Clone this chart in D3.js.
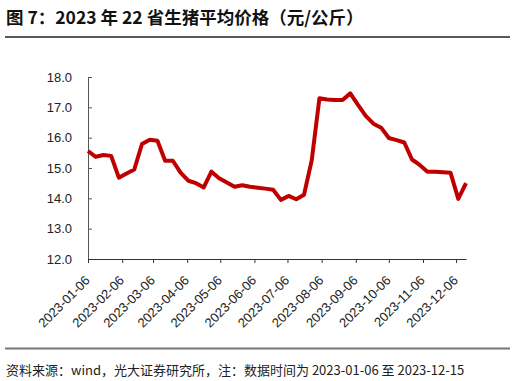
<!DOCTYPE html>
<html>
<head>
    <meta charset="utf-8">
    <script src="https://cdn.jsdelivr.net/npm/d3@7"></script>
    <style type="text/css">
        body { margin: 0; background: #fff; }
        .axis text { font-family: "Liberation Sans", Arial, sans-serif; font-size: 13px; fill: #222; }
        .cjk { font-family: "Noto Sans CJK SC", sans-serif; }
    </style>
</head>
<body>
<script type="text/javascript">
    // weekly dates and prices (yuan/kg)
    var dates = [
        "2023-01-06", "2023-01-13", "2023-01-20", "2023-01-27",
        "2023-02-03", "2023-02-10", "2023-02-17", "2023-02-24",
        "2023-03-03", "2023-03-10", "2023-03-17", "2023-03-24", "2023-03-31",
        "2023-04-07", "2023-04-14", "2023-04-21", "2023-04-28",
        "2023-05-05", "2023-05-12", "2023-05-19", "2023-05-26",
        "2023-06-02", "2023-06-09", "2023-06-16", "2023-06-23", "2023-06-30",
        "2023-07-07", "2023-07-14", "2023-07-21", "2023-07-28",
        "2023-08-04", "2023-08-11", "2023-08-18", "2023-08-25",
        "2023-09-01", "2023-09-08", "2023-09-15", "2023-09-22", "2023-09-29",
        "2023-10-06", "2023-10-13", "2023-10-20", "2023-10-27",
        "2023-11-03", "2023-11-10", "2023-11-17", "2023-11-24",
        "2023-12-01", "2023-12-08", "2023-12-15"
    ];
    var prices = [
        15.56, 15.37, 15.43, 15.40,
        14.68, 14.82, 14.95, 15.79,
        15.93, 15.90, 15.24, 15.24, 14.85,
        14.58, 14.50, 14.36, 14.88,
        14.66, 14.52, 14.38, 14.43,
        14.38, 14.35, 14.32, 14.28, 13.95,
        14.08, 13.97, 14.12, 15.25,
        17.30, 17.26, 17.24, 17.24,
        17.46, 17.08, 16.72, 16.46, 16.33,
        15.99, 15.92, 15.84, 15.28,
        15.10, 14.88, 14.88, 14.86,
        14.84, 13.98, 14.50
    ];
    var xTickLabels = [
        "2023-01-06", "2023-02-06", "2023-03-06", "2023-04-06",
        "2023-05-06", "2023-06-06", "2023-07-06", "2023-08-06",
        "2023-09-06", "2023-10-06", "2023-11-06", "2023-12-06"
    ];
    var yTicks = [12, 13, 14, 15, 16, 17, 18];

    var titleText = "图 7：2023 年 22 省生猪平均价格（元/公斤）";
    var sourceText = "资料来源：wind，光大证券研究所，注：数据时间为 2023-01-06 至 2023-12-15";

    var W = 515, H = 381;
    var plotLeft = 88, plotRight = 466, plotTop = 77, plotBottom = 259;

    var parse = d3.timeParse("%Y-%m-%d");
    var data = dates.map(function(d, i) { return { date: parse(d), value: prices[i] }; });

    var svg = d3.select("body").append("svg")
        .attr("width", W)
        .attr("height", H);

    // title and rules
    svg.append("text")
        .attr("class", "cjk")
        .attr("x", 6)
        .attr("y", 24)
        .style("font-size", "17.5px")
        .style("font-weight", "bold")
        .style("fill", "#111")
        .text(titleText);

    svg.append("line")
        .attr("x1", 5).attr("x2", 510)
        .attr("y1", 37).attr("y2", 37)
        .style("stroke", "#222")
        .style("stroke-width", 1.3);

    svg.append("line")
        .attr("x1", 5).attr("x2", 510)
        .attr("y1", 348.5).attr("y2", 348.5)
        .style("stroke", "#777")
        .style("stroke-width", 2);

    svg.append("text")
        .attr("class", "cjk")
        .attr("x", 6)
        .attr("y", 375)
        .style("font-size", "13px")
        .style("fill", "#222")
        .text(sourceText);

    // scales
    var x = d3.scaleTime()
        .domain([data[0].date, data[data.length - 1].date])
        .range([plotLeft, plotRight]);

    var y = d3.scaleLinear()
        .domain([12, 18])
        .range([plotBottom, plotTop]);

    // y axis, ticks pointing into the plot
    var yAxis = svg.append("g")
        .attr("class", "axis")
        .attr("transform", "translate(" + plotLeft + ",0)")
        .call(d3.axisRight(y).tickValues(yTicks).tickSize(4).tickSizeOuter(0).tickFormat(d3.format(".1f")));
    yAxis.select(".domain").style("stroke", "#555");
    yAxis.selectAll(".tick line").style("stroke", "#555");
    yAxis.selectAll("text")
        .attr("x", -16)
        .style("text-anchor", "end");

    // x axis with rotated labels
    var xAxis = svg.append("g")
        .attr("class", "axis")
        .attr("transform", "translate(0," + plotBottom + ")")
        .call(d3.axisBottom(x)
            .tickValues(xTickLabels.map(parse))
            .tickSize(4)
            .tickSizeOuter(0)
            .tickFormat(d3.timeFormat("%Y-%m-%d")));
    xAxis.select(".domain").style("stroke", "#333");
    xAxis.selectAll(".tick line").style("stroke", "#333");
    xAxis.selectAll("text")
        .attr("x", 0)
        .attr("y", 0)
        .attr("dy", "0.35em")
        .attr("transform", "translate(-1,19) rotate(-45)")
        .style("text-anchor", "end");

    // the price line
    var line = d3.line()
        .x(function(d) { return x(d.date); })
        .y(function(d) { return y(d.value); });

    svg.append("path")
        .datum(data)
        .attr("d", line)
        .style("fill", "none")
        .style("stroke", "#c00000")
        .style("stroke-width", 4)
        .style("stroke-linejoin", "round");
</script>
</body>
</html>
